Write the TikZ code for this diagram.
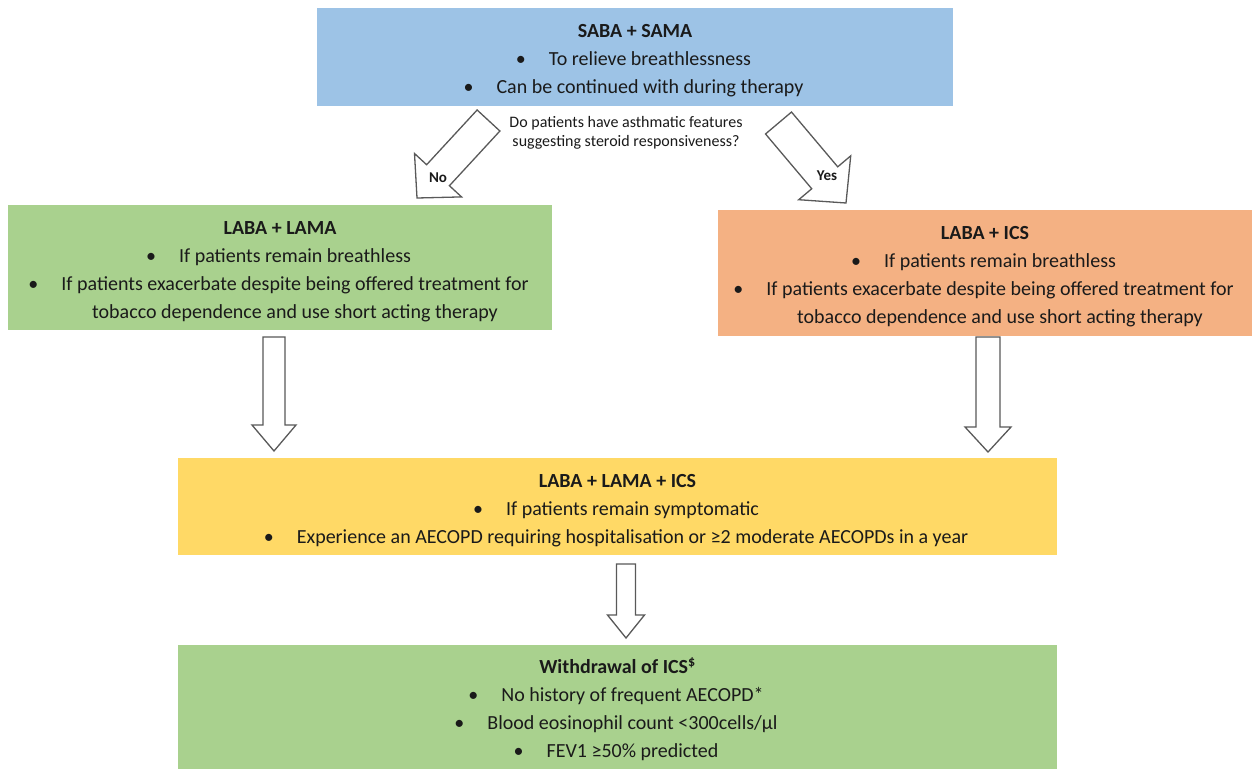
\documentclass[tikz,border=0pt]{standalone}
\usepackage{fontspec}
\setmainfont{Carlito}
\usetikzlibrary{calc}

\definecolor{boxblue}{HTML}{9DC3E6}
\definecolor{boxgreen}{HTML}{A9D18E}
\definecolor{boxorange}{HTML}{F4B183}
\definecolor{boxyellow}{HTML}{FFD966}
\definecolor{ink}{HTML}{1A1A1A}
\definecolor{arrowgray}{HTML}{595959}

% heading line, centred on the box (the strut sets a common top margin)
\newcommand\hd[1]{\makebox[0pt]{\rule{0pt}{21pt}\textbf{#1}}}
% bulleted line: text centred a little right of the box centre, bullet hanging left
\newcommand\bi[1]{\makebox[0pt]{\hspace*{30pt}\llap{\textbullet\hspace{23pt}}#1}}
% continuation of a bulleted line
\newcommand\ct[1]{\makebox[0pt]{\hspace*{30pt}#1}}

% outlined block arrow: tail, tip, shaft half-width, head half-width, head length
\newcommand\blockarrow[5]{%
  \coordinate (hb) at ($(#2)!#5!(#1)$);
  \draw[fatarrow] ($(#1)!#3!90:(#2)$) -- ($(hb)!#3!90:(#2)$) -- ($(hb)!#4!90:(#2)$)
    -- (#2) -- ($(hb)!#4!-90:(#2)$) -- ($(hb)!#3!-90:(#2)$) -- ($(#1)!#3!-90:(#2)$) -- cycle;
}

\begin{document}
\begin{tikzpicture}[x=1pt, y=-1pt,
  box/.style={rectangle, inner sep=0pt, align=center, text=ink,
    font=\fontsize{20}{28}\selectfont},
  question/.style={inner sep=0pt, align=center, text=ink,
    font=\fontsize{16}{19}\selectfont},
  lbl/.style={inner sep=0pt, text=ink, font=\fontsize{15}{18}\selectfont\bfseries},
  fatarrow/.style={draw=arrowgray, line width=1.3pt, fill=white, line join=miter}]

\useasboundingbox[fill=white] (0,0) rectangle (1252,769);

% treatment boxes
\node[box, fill=boxblue, minimum width=636, minimum height=98] (saba) at (635,57)
  {\hd{SABA + SAMA}\\
   \bi{To relieve breathlessness}\\
   \bi{Can be continued with during therapy}};

\node[box, fill=boxgreen, minimum width=544, minimum height=125] (lama) at (280,267.5)
  {\hd{LABA + LAMA}\\
   \bi{If patients remain breathless}\\
   \bi{If patients exacerbate despite being offered treatment for}\\
   \ct{tobacco dependence and use short acting therapy}};

\node[box, fill=boxorange, minimum width=534, minimum height=126] (ics) at (985,273)
  {\hd{LABA + ICS}\\
   \bi{If patients remain breathless}\\
   \bi{If patients exacerbate despite being offered treatment for}\\
   \ct{tobacco dependence and use short acting therapy}};

\node[box, fill=boxyellow, minimum width=879, minimum height=97] (triple) at (617.5,506.5)
  {\hd{LABA + LAMA + ICS}\\
   \bi{If patients remain symptomatic}\\
   \bi{Experience an AECOPD requiring hospitalisation or ≥2 moderate AECOPDs in a year}};

\node[box, fill=boxgreen, minimum width=879, minimum height=124] (withdraw) at (617.5,707)
  {\hd{Withdrawal of ICS\textsuperscript{\$}}\\
   \bi{No history of frequent AECOPD*}\\
   \bi{Blood eosinophil count <300cells/µl}\\
   \bi{FEV1 ≥50\% predicted}};

% decision question
\node[question] (ask) at (626,133)
  {Do patients have asthmatic features\\ suggesting steroid responsiveness?};

% arrow ends
\coordinate (noT)  at (488.5,120.5);
\coordinate (noH)  at (417,198);
\coordinate (yesT) at (778.5,123);
\coordinate (yesH) at (846,203);
\coordinate (lT) at (274,337);
\coordinate (lH) at (274,451);
\coordinate (rT) at (988,337);
\coordinate (rH) at (988,452);
\coordinate (mT) at (626,564);
\coordinate (mH) at (626,638);

\blockarrow{noT}{noH}{15.5pt}{32pt}{31pt}
\blockarrow{yesT}{yesH}{17pt}{34pt}{33pt}
\blockarrow{lT}{lH}{11pt}{22pt}{26pt}
\blockarrow{rT}{rH}{12pt}{23pt}{25pt}
\blockarrow{mT}{mH}{9.5pt}{18.5pt}{23pt}

\node[lbl] (no)  at (438,178) {No};
\node[lbl] (yes) at (827,176) {Yes};

\end{tikzpicture}
\end{document}
